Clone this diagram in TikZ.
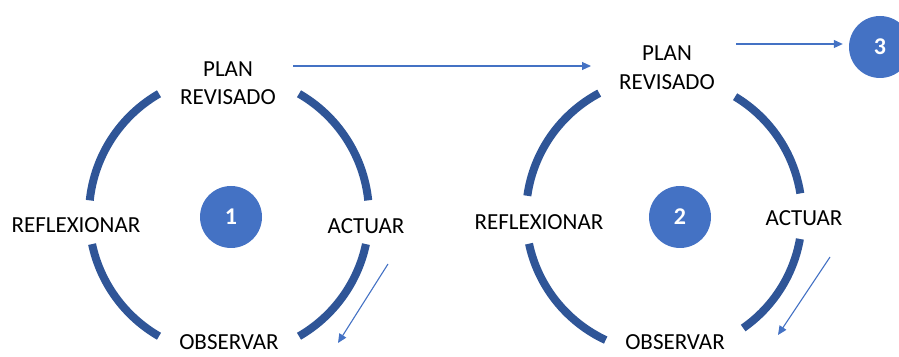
\documentclass[tikz,border=0pt]{standalone}
\usepackage{fontspec}
\setmainfont{Carlito}
\usetikzlibrary{arrows.meta}
\definecolor{ringblue}{HTML}{2F5597}
\definecolor{dotblue}{HTML}{4472C4}
\begin{document}
\begin{tikzpicture}[x=1pt,y=1pt,
	ring/.style={draw=ringblue, line width=8pt, line cap=butt},
	stage/.style={font=\fontsize{23}{28.5}\selectfont, align=center, inner sep=0pt},
	num/.style={circle, fill=dotblue, text=white, minimum size=62pt, inner sep=0pt, font=\fontsize{24}{28}\selectfont\bfseries},
	flow/.style={draw=dotblue, line width=1.1pt, -{Triangle[length=9pt,width=8pt]}}
	]
	\useasboundingbox (0,0) rectangle (899,356);

	\begin{scope}
	\coordinate (c1) at (229,141);
	\draw[ring] ([shift={(60:140)}]c1) arc[start angle=60, end angle=6, radius=140];
	\draw[ring] ([shift={(-12:140)}]c1) arc[start angle=-12, end angle=-60, radius=140];
	\draw[ring] ([shift={(120:140)}]c1) arc[start angle=120, end angle=174, radius=140];
	\draw[ring] ([shift={(192:140)}]c1) arc[start angle=192, end angle=240, radius=140];

	\node[stage] (plan1) at (228,273) {PLAN\\REVISADO};
	\node[stage] (refl1) at (76,131) {REFLEXIONAR};
	\node[stage] (act1) at (366,130) {ACTUAR};
	\node[stage] (obs1) at (229,14) {OBSERVAR};
	\node[num] (n1) at (231,139) {1};
	\end{scope}

	\begin{scope}
	\coordinate (c2) at (664,141);
	\draw[ring] ([shift={(59:138)}]c2) arc[start angle=59, end angle=9, radius=138];
	\draw[ring] ([shift={(-10:138)}]c2) arc[start angle=-10, end angle=-55, radius=138];
	\draw[ring] ([shift={(118:138)}]c2) arc[start angle=118, end angle=172, radius=138];
	\draw[ring] ([shift={(192:138)}]c2) arc[start angle=192, end angle=245, radius=138];

	\node[stage] (plan2) at (667,288.5) {PLAN\\REVISADO};
	\node[stage] (refl2) at (539,134) {REFLEXIONAR};
	\node[stage] (act2) at (804,138) {ACTUAR};
	\node[stage] (obs2) at (675,14) {OBSERVAR};
	\node[num] (n2) at (680,139) {2};
	\end{scope}

	\node[num] (n3) at (880,309) {3};

	\coordinate (p1out) at (293,290);
	\coordinate (p2in) at (591,290);
	\coordinate (p2out) at (736,312);
	\coordinate (a1s) at (388,92);
	\coordinate (a1e) at (338,13);
	\coordinate (a2s) at (830,99);
	\coordinate (a2e) at (778,21);

	\draw[flow] (p1out) -- (p2in);
	\draw[flow, shorten >=6pt] (p2out) -- (n3.west |- p2out);
	\draw[flow] (a1s) -- (a1e);
	\draw[flow] (a2s) -- (a2e);
\end{tikzpicture}
\end{document}
